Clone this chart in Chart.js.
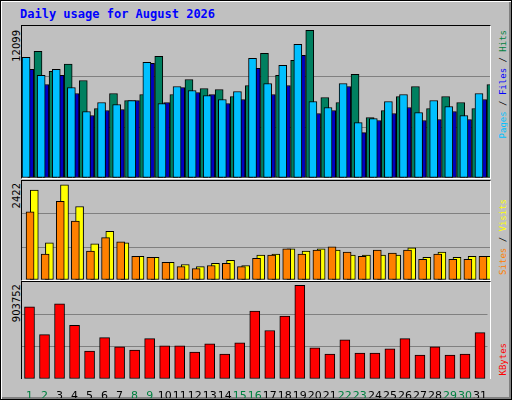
<!DOCTYPE html>
<html>
<head>
<meta charset="utf-8">
<script src="https://cdn.jsdelivr.net/npm/chart.js@4"></script>
<style>
  body { margin: 0; width: 512px; height: 400px; overflow: hidden; }
  #frame { position: absolute; left: 0; top: 0; width: 510px; height: 398px; background: #C0C0C0;
    border: 1px solid #000; box-shadow: inset 1px 1px 0 #fff, inset -2px -2px 0 #808080; }
  .panel { position: absolute; left: 20px; width: 470px; box-sizing: border-box;
    border-top: 1px solid #000; border-left: 1px solid #000; border-right: 1px solid #fff; border-bottom: 1px solid #fff; }
  .panel canvas { display: block; }
  #title { position: absolute; left: 19px; top: 6px; font: bold 12px "DejaVu Sans Mono", monospace; color: #0000FF; }
  .vt { position: absolute; writing-mode: vertical-rl; transform: rotate(180deg);
    font: 9px "DejaVu Sans Mono", monospace; white-space: nowrap; }
  .vmax { font: 10px "DejaVu Sans", sans-serif; color: #000; }
</style>
</head>
<body>
<div id="frame">
  <div id="title">Daily usage for August 2026</div>
  <div class="vt vmax" style="left:10px; top:29px;">12099</div>
  <div class="vt vmax" style="left:10px; top:182px;">2422</div>
  <div class="vt vmax" style="left:10px; top:283px;">903752</div>
  <div class="vt" style="left:497px; top:29px;"><span style="color:#00C0FF">Pages</span> / <span style="color:#0000FF">Files</span> / <span style="color:#008040">Hits</span></div>
  <div class="vt" style="left:497px; top:198px;"><span style="color:#FF8000">Sites</span> / <span style="color:#FFFF00">Visits</span></div>
  <div class="vt" style="left:497px; top:342px;"><span style="color:#FF0000">KBytes</span></div>
  <div class="panel" style="top:24px; height:154px;"><canvas id="c1"></canvas></div>
  <div class="panel" style="top:179px; height:101px;"><canvas id="c2"></canvas></div>
  <div class="panel" style="top:280px; height:98px; border-bottom:none;"></div>
  <div style="position:absolute; left:21px; top:281px; width:468px; height:116px;"><canvas id="c3"></canvas></div>
</div>
<script>
const days = Array.from({ length: 31 }, (_, i) => i + 1);
const weekend = [1, 2, 8, 9, 15, 16, 22, 23, 29, 30];

const hits = [10373, 8731, 9333, 7992, 5693, 6925, 6350, 6843, 9963, 6843, 8074, 7335, 7253, 6678, 7581, 10209,
  8403, 9634, 12099, 6596, 6186, 8485, 4954, 5529, 6678, 7499, 5693, 6678, 6186, 5693, 7664];
const files = [9881, 8403, 8895, 7417, 5447, 6186, 6021, 6350, 9470, 6104, 7499, 7171, 6760, 6432, 7089, 9798,
  7746, 9224, 10948, 6268, 5775, 7746, 4543, 4872, 6268, 6843, 5365, 6350, 5857, 5118, 6925];
const pages = [8895, 7664, 8403, 6925, 5118, 5529, 5611, 6350, 9388, 6186, 7417, 7007, 6843, 6104, 6432, 8977,
  6843, 7581, 10045, 5282, 5529, 7499, 3722, 4708, 5282, 5775, 4708, 4790, 5447, 4790, 6432];
const visits = [2290, 948, 2422, 1869, 921, 1237, 948, 605, 579, 448, 395, 342, 421, 500, 369, 632,
  658, 790, 737, 790, 763, 632, 632, 632, 632, 816, 579, 711, 579, 605, 605];
const sites = [1737, 658, 2001, 1501, 737, 1079, 974, 605, 579, 448, 342, 290, 369, 421, 342, 553,
  632, 790, 658, 763, 842, 711, 605, 763, 684, 763, 527, 658, 527, 527, 605];
const kbytes = [695900, 428800, 725600, 517800, 270500, 399100, 310000, 280300, 389200, 319900, 319900, 260600,
  339700, 240800, 349600, 656300, 468300, 606900, 903752, 300100, 240800, 379300, 250700, 250700, 290200,
  389200, 230900, 310000, 230900, 240800, 448600];

// shift > 0 moves the bars to the right inside their slot
function xAxis(shift, show) {
  const ax = { type: 'linear', min: 0.5 - shift, max: 31.5 - shift, offset: false, display: show,
    grid: { display: false }, border: { display: false } };
  if (show) {
    ax.min = 0.5; ax.max = 31.5;
    ax.afterBuildTicks = s => { s.ticks = days.map(d => ({ value: d })); };
    ax.afterFit = s => { s.height = 19; };
    ax.ticks = {
      autoSkip: false, maxRotation: 0, padding: 3,
      font: { family: 'DejaVu Sans', size: 11 },
      color: c => weekend.includes(c.tick.value) ? '#008040' : '#000'
    };
  }
  return ax;
}

function yAxis(max) {
  return {
    min: 0, max: max,
    afterBuildTicks: s => { s.ticks = [0, max / 3, 2 * max / 3].map(v => ({ value: v })); },
    afterFit: s => { s.width = 0; },
    ticks: { display: false },
    border: { display: false },
    grid: { color: c => c.tick.value === 0 ? 'rgba(0,0,0,0)' : '#808080', lineWidth: 1, drawTicks: false }
  };
}

function bars(label, vals, color, axis, thick) {
  return { label, data: vals.map((v, i) => ({ x: days[i], y: v })), backgroundColor: color,
    borderColor: '#000', borderWidth: 1, borderSkipped: false, barThickness: thick, xAxisID: axis };
}

const base = {
  animation: false, responsive: true, maintainAspectRatio: false,
  layout: { padding: 0 },
  plugins: { legend: { display: false }, tooltip: { enabled: false } }
};

new Chart(document.getElementById('c1'), {
  type: 'bar',
  data: { datasets: [
    bars('Files', files, '#00C0FF', 'xf', 8),
    bars('Pages', pages, '#0000C0', 'xp', 6),
    bars('Hits', hits, '#008060', 'xh', 8)
  ] },
  options: { ...base, scales: { xh: xAxis(0.03, false), xp: xAxis(0.08, false), xf: xAxis(0.3, false),
    y: yAxis(12455) } }
});

new Chart(document.getElementById('c2'), {
  type: 'bar',
  data: { datasets: [
    bars('Sites', sites, '#FF8000', 'xs', 8),
    bars('Visits', visits, '#FFFF00', 'xv', 8)
  ] },
  options: { ...base, scales: { xv: xAxis(0.05, false), xs: xAxis(0.3, false), y: yAxis(2518) } }
});

new Chart(document.getElementById('c3'), {
  type: 'bar',
  data: { datasets: [ bars('KBytes', kbytes, '#FF0000', 'x', 10) ] },
  options: { ...base, scales: { x: xAxis(0, true), y: yAxis(936700) } }
});
</script>
</body>
</html>
